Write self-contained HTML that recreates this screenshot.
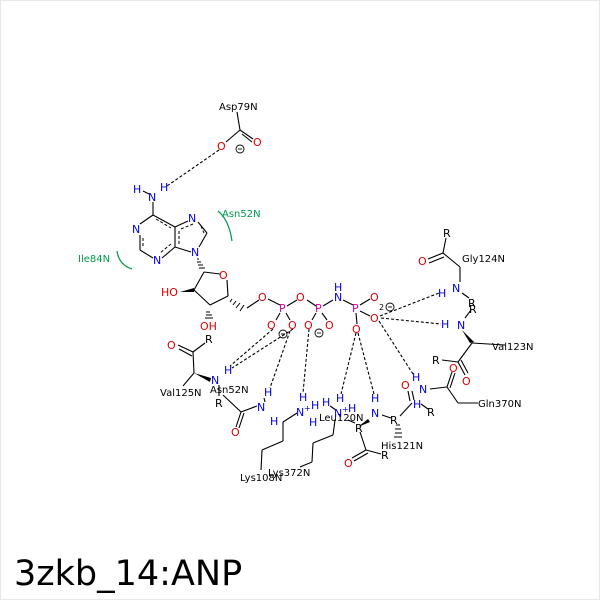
<!DOCTYPE html>
<html><head><style>body{margin:0;background:#fff}svg{display:block}text{font-family:"DejaVu Sans","Liberation Sans",sans-serif}</style></head><body>
<svg width="600" height="600" viewBox="0 0 600 600" xmlns="http://www.w3.org/2000/svg">
<rect x="0.5" y="0.5" width="599" height="599" fill="#fff" stroke="#e8e8e8"/>
<g stroke="#000" stroke-width="1.1" fill="none">
<line x1="237" y1="112" x2="240" y2="130"/><line x1="240" y1="130" x2="226" y2="142"/><line x1="240" y1="130" x2="253" y2="139"/><line x1="242" y1="134" x2="252" y2="142"/>
<line x1="143" y1="191" x2="149" y2="194"/><line x1="153" y1="202" x2="153" y2="215"/>
<line x1="153" y1="215" x2="140" y2="224"/><line x1="140" y1="235" x2="140" y2="250"/><line x1="140" y1="250" x2="153" y2="258"/><line x1="162" y1="258" x2="175" y2="247"/><line x1="175" y1="247" x2="175" y2="227"/><line x1="175" y1="227" x2="153" y2="215"/>
<line x1="175" y1="227" x2="188" y2="221"/><line x1="198" y1="222" x2="207" y2="233"/><line x1="207" y1="233" x2="199" y2="247"/><line x1="191" y1="252" x2="175" y2="247"/>
<line x1="204" y1="272" x2="220" y2="274"/><line x1="227" y1="280" x2="228" y2="296"/><line x1="228" y1="296" x2="210" y2="305"/><line x1="210" y1="305" x2="194" y2="290"/><line x1="194" y1="290" x2="204" y2="272"/>
<line x1="247" y1="308" x2="259" y2="300"/><line x1="268" y1="299" x2="280" y2="305"/>
<line x1="287" y1="306" x2="297" y2="300"/><line x1="307" y1="300" x2="316" y2="306"/><line x1="323" y1="306" x2="333" y2="300"/><line x1="343" y1="300" x2="353" y2="305"/>
<line x1="356" y1="313" x2="357" y2="324"/><line x1="360" y1="305" x2="370" y2="299"/><line x1="360" y1="311" x2="370" y2="316"/>
<line x1="280" y1="313" x2="276" y2="320"/><line x1="286" y1="313" x2="290" y2="320"/><line x1="316" y1="313" x2="312" y2="320"/><line x1="322" y1="313" x2="327" y2="320"/>
<line x1="178" y1="345" x2="193" y2="352"/><line x1="179" y1="349" x2="192" y2="356"/><line x1="193" y1="352" x2="205" y2="343"/><line x1="193" y1="352" x2="194" y2="373"/><line x1="194" y1="373" x2="183" y2="386"/>
<line x1="219" y1="385" x2="219" y2="396"/>
<line x1="223" y1="395" x2="241" y2="412"/><line x1="241" y1="412" x2="257" y2="406"/><line x1="241" y1="412" x2="236" y2="427"/><line x1="244" y1="413" x2="239" y2="428"/><line x1="264" y1="398" x2="265" y2="402"/>
<line x1="297" y1="413" x2="283" y2="422"/><line x1="283" y1="422" x2="283" y2="441"/><line x1="283" y1="441" x2="262" y2="450"/><line x1="262" y1="450" x2="261" y2="470"/>
<line x1="335" y1="420" x2="333" y2="435"/><line x1="333" y1="435" x2="313" y2="443"/><line x1="313" y1="443" x2="312" y2="462"/><line x1="312" y1="462" x2="300" y2="467"/><line x1="330" y1="406" x2="336" y2="410"/>
<line x1="348" y1="420" x2="355" y2="423"/><line x1="360" y1="432" x2="366" y2="450"/><line x1="366" y1="450" x2="352" y2="458"/><line x1="368" y1="453" x2="354" y2="461"/><line x1="366" y1="450" x2="381" y2="454"/>
<line x1="382" y1="415" x2="391" y2="418"/><line x1="400" y1="416" x2="412" y2="403"/><line x1="410" y1="401" x2="408" y2="391"/><line x1="414" y1="400" x2="412" y2="391"/>
<line x1="430" y1="389" x2="447" y2="387"/><line x1="447" y1="387" x2="452" y2="372"/><line x1="450" y1="388" x2="455" y2="373"/><line x1="447" y1="387" x2="458" y2="403"/><line x1="458" y1="403" x2="478" y2="403"/><line x1="421" y1="404" x2="428" y2="409"/>
<line x1="465" y1="318" x2="471" y2="310"/><line x1="472" y1="343" x2="505" y2="345"/><line x1="472" y1="343" x2="458" y2="362"/><line x1="458" y1="362" x2="442" y2="360"/><line x1="458" y1="362" x2="465" y2="375"/><line x1="461" y1="360" x2="468" y2="373"/>
<line x1="460" y1="282" x2="460" y2="267"/><line x1="460" y1="267" x2="443" y2="253"/><line x1="443" y1="253" x2="428" y2="259"/><line x1="444" y1="257" x2="429" y2="263"/><line x1="443" y1="253" x2="446" y2="238"/><line x1="462" y1="293" x2="469" y2="298"/>
</g>
<g fill="#000"><polygon points="180,292 194,288 194,292"/><polygon points="194,373 211,378 210,382"/><polygon points="462,330 470,343 474,342"/><polygon points="358,427 368,419 370,422"/></g>
<g stroke="#000" stroke-width="1">
<path d="M197,259h2M197,262h4M198,265h5M199,268h6"/>
<path d="M206,312h4M206,315h6M205,318h8"/>
<path d="M232,299l-2,3M236,301l-3,4M240,303l-4,5M244,305l-4,6"/>
<path d="M396,425h4M395,429h6M395,433h7M394,437h8"/>
</g>
<g stroke="#000" stroke-width="1" stroke-dasharray="3,2"><line x1="156" y1="219" x2="171" y2="228"/><line x1="171" y1="244" x2="160" y2="253"/><line x1="179" y1="231" x2="179" y2="244"/><line x1="201" y1="226" x2="204" y2="233"/><line x1="143" y1="238" x2="143" y2="248"/><line x1="193" y1="224" x2="181" y2="229"/></g>
<g stroke="#000" stroke-width="1.1" stroke-dasharray="3,2" fill="none">
<line x1="219" y1="150" x2="167" y2="186"/>
<line x1="273" y1="329" x2="230" y2="366"/><line x1="293" y1="329" x2="232" y2="368"/><line x1="290" y1="331" x2="270" y2="388"/>
<line x1="309" y1="329" x2="303" y2="393"/>
<line x1="356" y1="333" x2="341" y2="394"/><line x1="358" y1="333" x2="374" y2="394"/>
<line x1="380" y1="316" x2="439" y2="293"/><line x1="381" y1="318" x2="441" y2="324"/><line x1="379" y1="321" x2="413" y2="374"/>
</g>
<g font-size="10" fill="#000">
<text x="219" y="110">Asp79N</text>
<text x="160" y="396">Val125N</text>
<text x="210" y="393">Asn52N</text>
<text x="240" y="481">Lys108N</text>
<text x="268" y="476">Lys372N</text>
<text x="319" y="421">Leu120N</text>
<text x="381" y="449">His121N</text>
<text x="478" y="407">Gln370N</text>
<text x="492" y="350">Val123N</text>
<text x="462" y="262">Gly124N</text>
</g>
<g font-size="11" fill="#000">
<text x="205" y="343">R</text><text x="215" y="407">R</text><text x="355" y="432">R</text><text x="381" y="459">R</text><text x="390" y="424">R</text><text x="427" y="416">R</text><text x="432" y="364">R</text><text x="468" y="307">R</text><text x="469" y="313">R</text><text x="443" y="237">R</text>
</g>
<g font-size="11" fill="#e00000">
<text x="217" y="150">O</text><text x="253" y="146">O</text>
<text x="219" y="279">O</text>
<text x="161" y="296">HO</text><text x="200" y="330">OH</text>
<text x="258" y="301">O</text><text x="296" y="301">O</text>
<text x="267" y="329">O</text><text x="288" y="329">O</text><text x="304" y="329">O</text><text x="325" y="329">O</text>
<text x="370" y="301">O</text><text x="370" y="322">O</text><text x="352" y="333">O</text>
<text x="167" y="349">O</text><text x="231" y="436">O</text><text x="344" y="467">O</text><text x="401" y="389">O</text><text x="449" y="372">O</text><text x="462" y="385">O</text><text x="418" y="265">O</text>
</g>
<g font-size="11" fill="#d000a0"><text x="279" y="312">P</text><text x="315" y="312">P</text><text x="352" y="312">P</text></g>
<g font-size="11" fill="#0000e0">
<text x="133" y="193">H</text><text x="148" y="201">N</text><text x="160" y="191">H</text>
<text x="132" y="233">N</text><text x="153" y="264">N</text><text x="188" y="222">N</text><text x="191" y="256">N</text>
<text x="334" y="291">H</text><text x="334" y="301">N</text>
<text x="211" y="384">N</text><text x="224" y="374">H</text>
<text x="257" y="411">N</text><text x="264" y="396">H</text><text x="270" y="425">H</text>
<text x="299" y="401">H</text><text x="296" y="416">N</text><text x="304" y="411" font-size="8">+</text><text x="311" y="409">H</text><text x="309" y="426">H</text>
<text x="336" y="402">H</text><text x="334" y="417">N</text><text x="342" y="412" font-size="8">+</text><text x="348" y="412">H</text><text x="322" y="406">H</text>
<text x="371" y="402">H</text><text x="371" y="417">N</text>
<text x="412" y="381">H</text><text x="419" y="393">N</text><text x="413" y="408">H</text>
<text x="441" y="328">H</text><text x="457" y="329">N</text>
<text x="438" y="297">H</text><text x="452" y="292">N</text>
</g>
<g fill="none" stroke="#000" stroke-width="0.9"><circle cx="240" cy="149" r="4"/><circle cx="283" cy="334" r="4"/><circle cx="319" cy="333" r="4"/><circle cx="390" cy="307" r="4"/></g>
<g stroke="#000" stroke-width="0.9"><line x1="238" y1="149" x2="242" y2="149"/><line x1="281" y1="334" x2="285" y2="334"/><line x1="317" y1="333" x2="321" y2="333"/><line x1="388" y1="307" x2="392" y2="307"/></g>
<text x="379" y="310" font-size="8" fill="#000">2</text>
<g fill="#00994d" font-size="10"><text x="222" y="217">Asn52N</text><text x="78" y="262">Ile84N</text></g>
<g fill="none" stroke="#00994d" stroke-width="1.2"><path d="M218,211 Q229,220 232,241"/><path d="M117,251 Q119,265 132,269"/></g>
<text x="14" y="585" font-size="35" fill="#000" font-family="DejaVu Sans, sans-serif">3zkb_14:ANP</text>
</svg>
</body></html>
